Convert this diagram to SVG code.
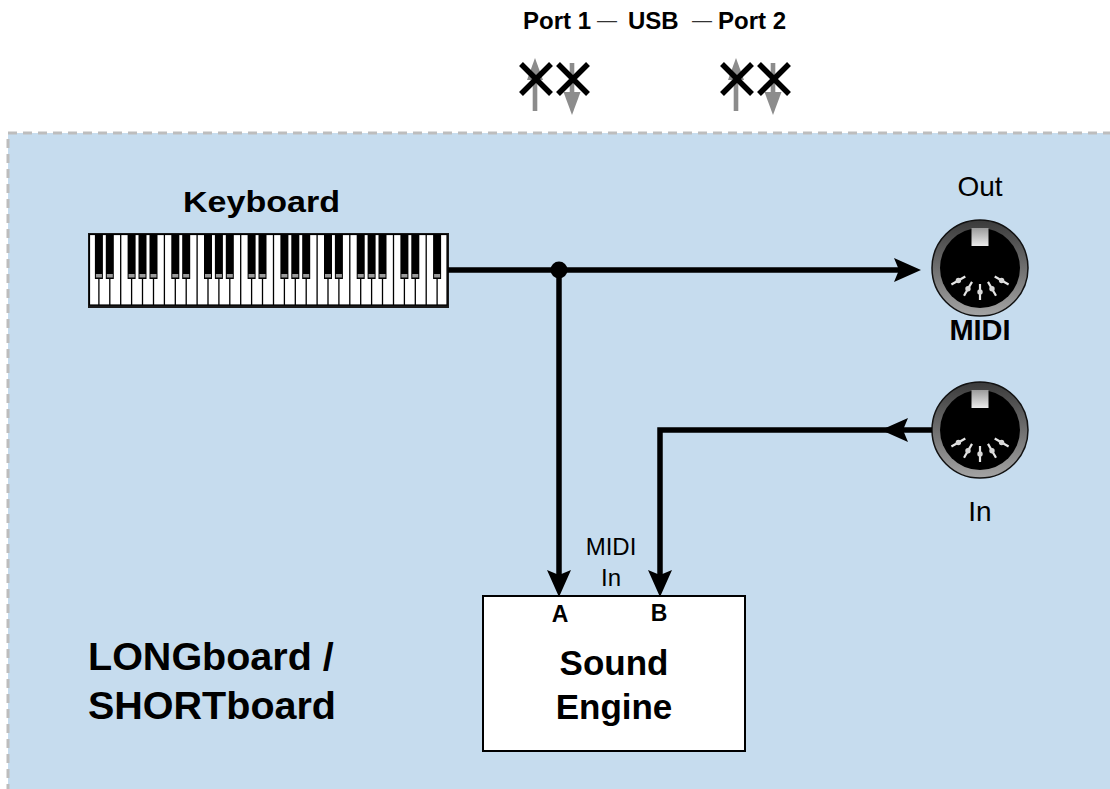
<svg xmlns="http://www.w3.org/2000/svg" xmlns:xlink="http://www.w3.org/1999/xlink" width="1110" height="789" viewBox="0 0 1110 789">
<style>
text{font-family:"Liberation Sans",Arial,sans-serif;fill:#000}
.b{font-weight:bold}
.conn{fill:none;stroke:#000;stroke-width:5.5}
.usbarr{fill:#8c8c8c}
.x{stroke:#000;stroke-width:5.5;fill:none}
</style>
<defs>
<marker id="arr" markerUnits="userSpaceOnUse" viewBox="0 0 27 24" refX="12" refY="12" markerWidth="27" markerHeight="24" orient="auto">
<path d="M0,0 L27,12 L0,24 L5,12 Z" fill="#000"/>
</marker>
<linearGradient id="ring" x1="0" y1="0" x2="0" y2="1">
<stop offset="0" stop-color="#3a3a3a"/>
<stop offset="1" stop-color="#a4a4a4"/>
</linearGradient>
<linearGradient id="notch" x1="0" y1="0" x2="0" y2="1">
<stop offset="0" stop-color="#9a9a9a"/>
<stop offset="1" stop-color="#ececec"/>
</linearGradient>
<g id="din">
<circle r="48" fill="url(#ring)" stroke="#111" stroke-width="1.5"/>
<circle r="40" fill="#000"/>
<rect x="-8.5" y="-40" width="17" height="18" fill="url(#notch)"/>
<g stroke="#e6e6e6" stroke-width="2.2">
<line x1="0" y1="16" x2="0" y2="32"/>
<line x1="8" y1="13.9" x2="16" y2="27.7"/>
<line x1="-8" y1="13.9" x2="-16" y2="27.7"/>
<line x1="14.7" y1="8.5" x2="28.6" y2="16.5"/>
<line x1="-14.7" y1="8.5" x2="-28.6" y2="16.5"/>
</g>
<g fill="#d8d8d8">
<circle cx="0" cy="24" r="2.7"/>
<circle cx="12" cy="20.8" r="2.7"/>
<circle cx="-12" cy="20.8" r="2.7"/>
<circle cx="21.6" cy="12.5" r="2.7"/>
<circle cx="-21.6" cy="12.5" r="2.7"/>
</g>
</g>
<g id="bk">
<rect x="-4" y="0" width="8" height="45" fill="#000"/>
<rect x="-3" y="40" width="6" height="3.5" fill="#9a9a9a"/>
</g>
<g id="usbpair">
<rect x="-2.3" y="74" width="4.6" height="37" class="usbarr"/>
<path d="M0,58 L8,80 L-8,80 Z" class="usbarr"/>
<rect x="34.7" y="63" width="4.6" height="32" class="usbarr"/>
<path d="M37,115 L28.5,92 L45.5,92 Z" class="usbarr"/>
<path d="M-14,64 L16,94 M16,64 L-14,94" class="x"/>
<path d="M23,64 L53,94 M53,64 L23,94" class="x"/>
</g>
</defs>

<g id="container">
<rect x="8" y="133" width="1120" height="680" fill="#c6dcee" stroke="#bdbdbd" stroke-width="3" stroke-dasharray="9 6"/>
<text class="b" x="88" y="670" font-size="39.5">LONGboard /</text>
<text class="b" x="88" y="719" font-size="39.5">SHORTboard</text>
</g>

<g id="usb">
<text class="b" y="29" font-size="24"><tspan x="523">Port 1</tspan><tspan x="597" y="27" font-size="20" font-weight="normal" fill="#333">—</tspan><tspan x="628" y="29">USB</tspan><tspan x="692" y="27" font-size="20" font-weight="normal" fill="#333">—</tspan><tspan x="718" y="29">Port 2</tspan></text>
<use xlink:href="#usbpair" x="535" y="0"/>
<use xlink:href="#usbpair" x="736" y="0"/>
</g>

<g id="keyboard">
<text class="b" x="183" y="212" font-size="30" textLength="157" lengthAdjust="spacingAndGlyphs">Keyboard</text>
<rect x="88" y="233" width="361" height="75" fill="#1a1a1a"/>
<rect x="89.5" y="234.5" width="357.5" height="70.5" fill="#fff" stroke="#000" stroke-width="1.2"/>
<path stroke="#000" stroke-width="1.3" d="M98.9,235V305M109.8,235V305M120.7,235V305M131.6,235V305M142.5,235V305M153.5,235V305M164.4,235V305M175.3,235V305M186.2,235V305M197.1,235V305M208,235V305M218.9,235V305M229.8,235V305M240.7,235V305M251.6,235V305M262.5,235V305M273.5,235V305M284.4,235V305M295.3,235V305M306.2,235V305M317.1,235V305M328,235V305M338.9,235V305M349.8,235V305M360.7,235V305M371.6,235V305M382.5,235V305M393.5,235V305M404.4,235V305M415.3,235V305M426.2,235V305M437.1,235V305"/>
<use xlink:href="#bk" x="98.9" y="234"/>
<use xlink:href="#bk" x="109.8" y="234"/>
<use xlink:href="#bk" x="131.6" y="234"/>
<use xlink:href="#bk" x="142.5" y="234"/>
<use xlink:href="#bk" x="153.5" y="234"/>
<use xlink:href="#bk" x="175.3" y="234"/>
<use xlink:href="#bk" x="186.2" y="234"/>
<use xlink:href="#bk" x="208" y="234"/>
<use xlink:href="#bk" x="218.9" y="234"/>
<use xlink:href="#bk" x="229.8" y="234"/>
<use xlink:href="#bk" x="251.6" y="234"/>
<use xlink:href="#bk" x="262.5" y="234"/>
<use xlink:href="#bk" x="284.4" y="234"/>
<use xlink:href="#bk" x="295.3" y="234"/>
<use xlink:href="#bk" x="306.2" y="234"/>
<use xlink:href="#bk" x="328" y="234"/>
<use xlink:href="#bk" x="338.9" y="234"/>
<use xlink:href="#bk" x="360.7" y="234"/>
<use xlink:href="#bk" x="371.6" y="234"/>
<use xlink:href="#bk" x="382.5" y="234"/>
<use xlink:href="#bk" x="404.4" y="234"/>
<use xlink:href="#bk" x="415.3" y="234"/>
<use xlink:href="#bk" x="437.1" y="234"/>
</g>

<g id="midi-out">
<text x="980" y="196" font-size="28" text-anchor="middle">Out</text>
<use xlink:href="#din" x="980" y="268"/>
</g>

<g id="midi-label">
<text class="b" x="980" y="340" font-size="29" text-anchor="middle">MIDI</text>
</g>

<g id="midi-in">
<use xlink:href="#din" x="980" y="430"/>
<text x="980" y="521" font-size="28" text-anchor="middle">In</text>
</g>

<g id="sound-engine">
<rect x="483" y="596" width="262" height="155" fill="#fff" stroke="#000" stroke-width="2"/>
<text class="b" x="560" y="622" font-size="23" text-anchor="middle">A</text>
<text class="b" x="659" y="621" font-size="23" text-anchor="middle">B</text>
<text class="b" x="614" y="675" font-size="35" text-anchor="middle">Sound</text>
<text class="b" x="614" y="719" font-size="35" text-anchor="middle">Engine</text>
<text x="611" y="555" font-size="24" text-anchor="middle">MIDI</text>
<text x="611" y="586" font-size="24" text-anchor="middle">In</text>
</g>

<g id="connectors">
<path class="conn" d="M448,270 H906" marker-end="url(#arr)"/>
<path class="conn" d="M559,270 V582" marker-end="url(#arr)"/>
<path class="conn" d="M932,430 H896" marker-end="url(#arr)"/>
<path class="conn" d="M890,430 H660 V582" marker-end="url(#arr)"/>
<circle cx="559" cy="270" r="8.5" fill="#000"/>
</g>
</svg>
